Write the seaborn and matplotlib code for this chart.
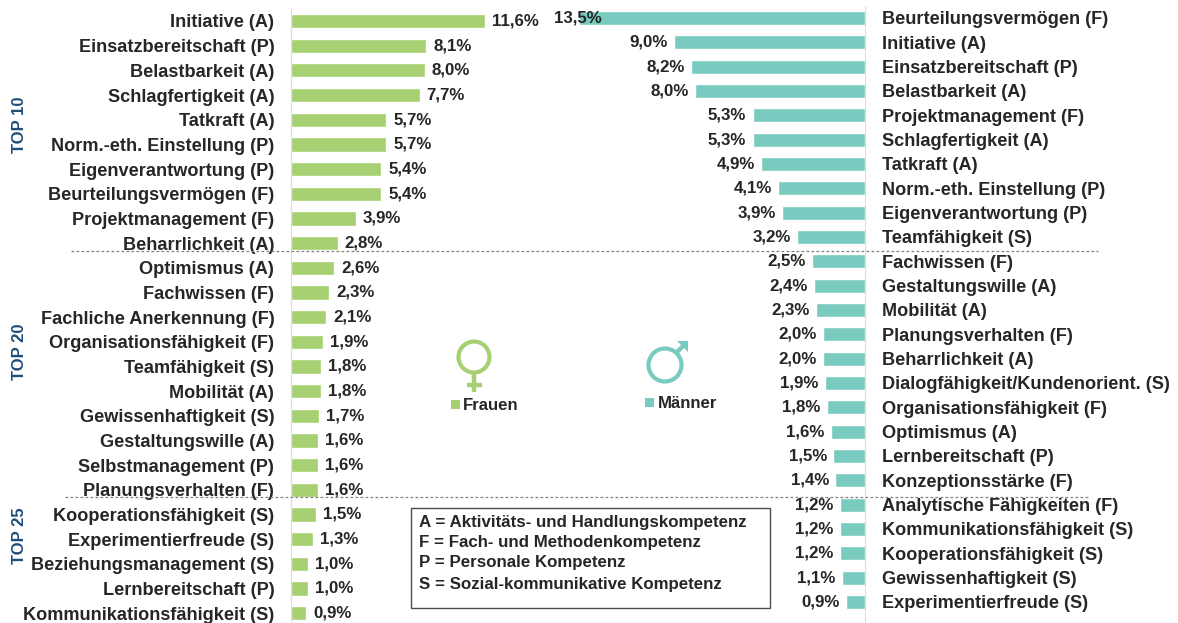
import matplotlib
matplotlib.use("Agg")
import matplotlib.pyplot as plt
from matplotlib.patches import Circle, Rectangle
import pandas as pd
import seaborn as sns

women_labels = ["Initiative (A)", "Einsatzbereitschaft (P)", "Belastbarkeit (A)", "Schlagfertigkeit (A)",
                "Tatkraft (A)", "Norm.-eth. Einstellung (P)", "Eigenverantwortung (P)", "Beurteilungsvermögen (F)",
                "Projektmanagement (F)", "Beharrlichkeit (A)", "Optimismus (A)", "Fachwissen (F)",
                "Fachliche Anerkennung (F)", "Organisationsfähigkeit (F)", "Teamfähigkeit (S)", "Mobilität (A)",
                "Gewissenhaftigkeit (S)", "Gestaltungswille (A)", "Selbstmanagement (P)", "Planungsverhalten (F)",
                "Kooperationsfähigkeit (S)", "Experimentierfreude (S)", "Beziehungsmanagement (S)",
                "Lernbereitschaft (P)", "Kommunikationsfähigkeit (S)"]
women_values = [11.6, 8.1, 8.0, 7.7, 5.7, 5.7, 5.4, 5.4, 3.9, 2.8, 2.6, 2.3, 2.1, 1.9, 1.8, 1.8, 1.7, 1.6, 1.6, 1.6,
                1.5, 1.3, 1.0, 1.0, 0.9]
men_labels = ["Beurteilungsvermögen (F)", "Initiative (A)", "Einsatzbereitschaft (P)", "Belastbarkeit (A)",
              "Projektmanagement (F)", "Schlagfertigkeit (A)", "Tatkraft (A)", "Norm.-eth. Einstellung (P)",
              "Eigenverantwortung (P)", "Teamfähigkeit (S)", "Fachwissen (F)", "Gestaltungswille (A)", "Mobilität (A)",
              "Planungsverhalten (F)", "Beharrlichkeit (A)", "Dialogfähigkeit/Kundenorient. (S)",
              "Organisationsfähigkeit (F)", "Optimismus (A)", "Lernbereitschaft (P)", "Konzeptionsstärke (F)",
              "Analytische Fähigkeiten (F)", "Kommunikationsfähigkeit (S)", "Kooperationsfähigkeit (S)",
              "Gewissenhaftigkeit (S)", "Experimentierfreude (S)"]
men_values = [13.5, 9.0, 8.2, 8.0, 5.3, 5.3, 4.9, 4.1, 3.9, 3.2, 2.5, 2.4, 2.3, 2.0, 2.0, 1.9, 1.8, 1.6, 1.5, 1.4,
              1.2, 1.2, 1.2, 1.1, 0.9]
legend_lines = ["A = Aktivitäts- und Handlungskompetenz", "F = Fach- und Methodenkompetenz",
                "P = Personale Kompetenz", "S = Sozial-kommunikative Kompetenz"]
tier_labels = ["TOP 10", "TOP 20", "TOP 25"]

GREEN = "#A6D071"
TEAL = "#7ACBBF"
DARK = "#262626"
NAVY = "#1F4E79"
W, H = 1178, 623

sns.set_style("white")
plt.rcParams["font.family"] = ["Liberation Sans", "DejaVu Sans"]
plt.rcParams["font.weight"] = "bold"

fig = plt.figure(figsize=(W / 100, H / 100), dpi=100, facecolor="white")


def axes_px(x0, y0, x1, y1):
    return fig.add_axes([x0 / W, 1 - y1 / H, (x1 - x0) / W, (y1 - y0) / H])


def fmt(v):
    return f"{v:.1f}".replace(".", ",") + "%"


def panel(ax, labels, values, color, pad):
    df = pd.DataFrame({"label": labels, "value": values})
    sns.barplot(data=df, y="label", x="value", color=color, width=0.58, saturation=1, ax=ax)
    anns = ax.bar_label(ax.containers[0], labels=[fmt(v) for v in values], padding=pad,
                        fontsize=12.2, fontweight="bold", color=DARK)
    ax.set_xlabel("")
    ax.set_ylabel("")
    ax.set_xticks([])
    ax.tick_params(axis="y", length=0, labelsize=13.1, labelcolor=DARK)
    for s in ax.spines.values():
        s.set_visible(False)
    ax.patch.set_alpha(0)
    return anns


# Women: 16.7 px per percentage point, rows 24.67 px apart
ax_w = axes_px(291, 9, 291 + 290, 623)
panel(ax_w, women_labels, women_values, GREEN, 5)
ax_w.set_xlim(0, 290 / 16.7)
ax_w.set_ylim((623 - 21) / 24.67, -(21 - 9) / 24.67)
ax_w.tick_params(axis="y", pad=12)
ax_w.spines["left"].set_visible(True)
ax_w.spines["left"].set_color("#DCDCDC")
ax_w.spines["left"].set_linewidth(0.8)

# Men: 21.2 px per percentage point, rows 24.33 px apart
ax_m = axes_px(865 - 295, 6, 865, 623)
anns = panel(ax_m, men_labels, men_values, TEAL, -4.5)
for a in anns:
    a.set_ha("right")
# The largest label overlaps its bar in the reference
x0, y0 = anns[0].xyann
anns[0].xyann = (x0 + 29 * 0.72, y0)
ax_m.set_xlim(295 / 21.2, 0)
ax_m.set_ylim((623 - 18) / 24.33, -(18 - 6) / 24.33)
ax_m.yaxis.tick_right()
ax_m.tick_params(axis="y", pad=12, length=0)
ax_m.spines["right"].set_visible(True)
ax_m.spines["right"].set_color("#DCDCDC")
ax_m.spines["right"].set_linewidth(0.8)

# Overlay in pixel coordinates for annotations
ov = fig.add_axes([0, 0, 1, 1], zorder=5)
ov.set_xlim(0, W)
ov.set_ylim(H, 0)
ov.axis("off")
ov.patch.set_alpha(0)

ov.plot([71, 1098], [251, 251], ls=(0, (2.2, 1.8)), color="#808080", lw=0.9)
ov.plot([65, 1090], [497, 497], ls=(0, (2.2, 1.8)), color="#808080", lw=0.9)

for txt, y in zip(tier_labels, [125, 352, 536]):
    ov.text(19, y, txt, rotation=90, ha="center", va="center", fontsize=12, color=NAVY, fontweight="bold")

# Female symbol
ov.add_patch(Circle((474, 357), 15.5, fill=False, ec=GREEN, lw=3))
ov.plot([474, 474], [373, 392], color=GREEN, lw=3.2, solid_capstyle="butt")
ov.plot([467, 482], [385, 385], color=GREEN, lw=3.2, solid_capstyle="butt")
# Male symbol
ov.add_patch(Circle((665, 365), 16.5, fill=False, ec=TEAL, lw=3))
ov.plot([676, 685], [353, 344], color=TEAL, lw=3.2, solid_capstyle="butt")
ov.fill([677, 688, 688], [341, 341, 352], color=TEAL, lw=0)

# Legend entries
ov.add_patch(Rectangle((451, 400), 9, 9, fc=GREEN, ec="none"))
ov.text(463, 405, "Frauen", ha="left", va="center", fontsize=12.1, color=DARK)
ov.add_patch(Rectangle((645, 398), 9, 9, fc=TEAL, ec="none"))
ov.text(658, 403, "Männer", ha="left", va="center", fontsize=12.1, color=DARK)

# Competence key
ov.add_patch(Rectangle((410.5, 507.5), 359, 100, fill=False, ec="#4D4D4D", lw=1))
for line, y in zip(legend_lines, [523, 543, 563, 584]):
    ov.text(419, y, line, ha="left", va="center", fontsize=12.2, color=DARK)

fig.savefig("out.png", dpi=100, facecolor="white")
